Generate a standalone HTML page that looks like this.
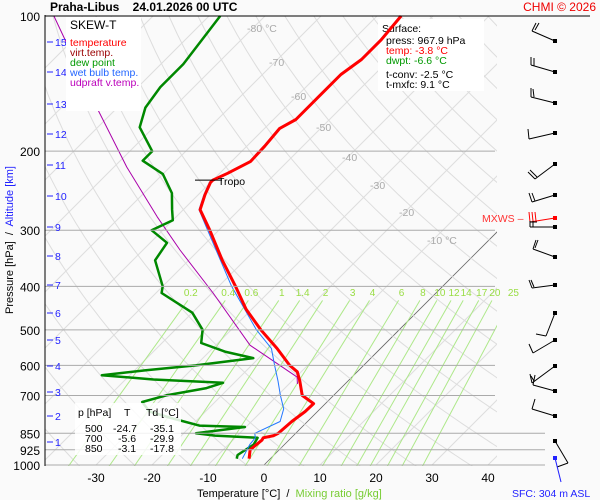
<!DOCTYPE html>
<html><head><meta charset="utf-8"><style>
body{margin:0;background:#fafafa;}
svg{display:block;font-family:"Liberation Sans",sans-serif;}
</style></head><body>
<svg id="c" width="600" height="500" viewBox="0 0 600 500">
<defs><clipPath id="plot"><rect x="45" y="15" width="452" height="451"/></clipPath></defs>
<rect width="600" height="500" fill="#fafafa"/>
<g id="grid" clip-path="url(#plot)"></g>
<g font-size="10.5">
<rect x="378" y="19" width="106" height="72" fill="#fff"/>
<text x="382" y="32" fill="#000">Surface:</text>
<text x="386" y="44" fill="#000">press: 967.9 hPa</text>
<text x="386" y="54" fill="#f00">temp: -3.8 °C</text>
<text x="386" y="64" fill="#090">dwpt: -6.6 °C</text>
<text x="386" y="78" fill="#000">t-conv: -2.5 °C</text>
<text x="386" y="88" fill="#000">t-mxfc: 9.1 °C</text>
</g>
<g id="series" clip-path="url(#plot)"></g>
<g id="axes"></g>
<text x="50" y="11" font-size="12" font-weight="bold">Praha-Libus&#160;&#160;&#160;&#160;24.01.2026 00 UTC</text>
<text x="596" y="11" font-size="12" fill="#e00" text-anchor="end">CHMI © 2026</text>
<g font-size="10.5">
<rect x="66" y="17" width="75" height="94" fill="#fff"/>
<text x="70" y="29" font-size="12" fill="#000">SKEW-T</text>
<text x="70" y="46" fill="#f00">temperature</text>
<text x="70" y="56" fill="#900">virt.temp.</text>
<text x="70" y="66" fill="#090">dew point</text>
<text x="70" y="76" fill="#26f">wet bulb temp.</text>
<text x="70" y="86" fill="#b0b">udpraft v.temp.</text>
</g>
<g font-size="10.5" fill="#000">
<rect x="75" y="403" width="106" height="52" fill="#fff" opacity="0.85"/>
<text x="78" y="416">p [hPa]</text><text x="124" y="416">T</text><text x="146" y="416">Td [°C]</text>
<text x="85" y="432">500</text><text x="113" y="432">-24.7</text><text x="150" y="432">-35.1</text>
<text x="85" y="442">700</text><text x="118" y="442">-5.6</text><text x="150" y="442">-29.9</text>
<text x="85" y="452">850</text><text x="118" y="452">-3.1</text><text x="150" y="452">-17.8</text>
</g>
<text x="197" y="497" font-size="11" fill="#000">Temperature [°C]&#160; /&#160; <tspan fill="#7c3">Mixing ratio [g/kg]</tspan></text>
<text transform="translate(13,240) rotate(-90)" font-size="11" text-anchor="middle" fill="#000">Pressure [hPa]&#160; /&#160; <tspan fill="#22f">Altitude [km]</tspan></text>
<g id="winds" stroke="#000" stroke-width="1" fill="none"></g>
<text x="482" y="222" font-size="10.5" fill="#f33">MXWS –</text>
<text x="512" y="497" font-size="10.5" fill="#22f">SFC: 304 m ASL</text>
</svg>
<script>
// data
const tempP = [968,925,880,870,860,850,800,760,730,700,650,620,600,550,500,450,400,350,300,270,250,235,232,224,211,195,178,170,150,135,125,113,100];
const tempT = [-3.8,-5.2,-4.8,-5.0,-3.5,-3.1,-2.8,-2.2,-2.1,-5.6,-8.6,-10.7,-13.2,-18.5,-24.7,-31,-37,-44,-51.6,-57,-58.8,-60,-60,-58.6,-56.6,-56.8,-57.3,-56,-56,-56,-55,-55,-55.7];
const dewP = [968,950,900,870,860,850,823,817,786,760,724,700,674,656,645,631,615,600,578,560,535,500,458,414,400,350,320,300,285,270,248,225,210,200,177,160,144,128,113,100];
const dewT = [-6,-6.5,-5.5,-6,-14,-17.8,-10.2,-18.6,-25,-30,-33,-29.9,-24,-22,-35,-45,-38,-30,-21,-27,-33,-35.1,-40,-49,-50,-56,-57,-62,-60,-62,-65,-70,-76,-76,-82.5,-85,-86,-86,-87,-88];
const wbP = [968,900,870,850,800,750,700,650,600,550,500,400,300,270,250,235,232,224,211,195,178,170,150,135,125,113,100];
const wbT = [-5,-6.2,-6.4,-7.3,-4.9,-6.5,-9.5,-12.5,-15.9,-19.5,-25.5,-37.7,-52,-57.2,-59,-60.2,-60.2,-58.8,-56.8,-57,-57.5,-56.2,-56.2,-56.2,-55.2,-55.2,-55.9];
const parcelP = [660,637,541,414,332,280,217,162,100];
const parcelT = [-8.5,-9.8,-23.9,-39.8,-53.4,-63.4,-77.7,-93,-117.7];
const pressureTicks = [100,200,300,400,500,600,700,850,925,1000];
const tempTicks = [-30,-20,-10,0,10,20,30,40];
const altKm = [1,2,3,4,5,6,7,8,9,10,11,12,13,14,15];
const altY = [442,416,392,366,340,313,285,256,227,196,165,134,104,72,42];
const mixRatios = [0.2,0.4,0.6,1,1.4,2,3,4,6,8,10,12,14,17,20,25];
const isoLabels = [-80,-70,-60,-50,-40,-30,-20,-10];

const NS = "http://www.w3.org/2000/svg";
function yP(p){return 465 - 449*Math.log10(1000/p);}
function xT(T,p){return 264 + 5.6*T + (465 - yP(p));}
function mk(tag, attrs, parent){const e=document.createElementNS(NS,tag);for(const k in attrs)e.setAttribute(k,attrs[k]);parent.appendChild(e);return e;}
const grid=document.getElementById('grid'), series=document.getElementById('series'), axes=document.getElementById('axes');

for(let T=-160;T<=50;T+=10){
  const l=mk('line',{x1:xT(T,1000),y1:yP(1000),x2:xT(T,100),y2:yP(100),stroke:T===0?'#666':'#ddd','stroke-width':T===0?0.8:1},grid);
  
  
}
for(let th=200;th<=480;th+=10){
  let pts=[];
  for(let p=1050;p>=100;p-=10){const T=th*Math.pow(p/1000,0.286)-273.15;pts.push(xT(T,p).toFixed(1)+','+yP(p).toFixed(1));}
  const l=mk('polyline',{points:pts.join(' '),fill:'none',stroke:'#ddd','stroke-width':1},grid);
  
  
}
function tdFromW(w,p){const e=w*p/(622+w);const a=Math.log(e/6.112);return 243.5*a/(17.67-a);}
mixRatios.forEach(w=>{
  const p2=430;
  const l=mk('line',{x1:xT(tdFromW(w,1050),1050),y1:yP(1050),x2:xT(tdFromW(w,p2),p2),y2:yP(p2),stroke:'#aee88a','stroke-width':1},grid);
  
  
  const t=mk('text',{x:xT(tdFromW(w,p2),p2)+3,y:yP(410)+5,'font-size':10,fill:'#9d4','text-anchor':'middle'},axes);
  t.textContent=w;
  
  
});
const isoY=[28,62,96,127,157,185,212,240];
isoLabels.forEach((T,i)=>{
  const y=isoY[i]; const p=1000/Math.pow(10,(465-y)/449);
  const t=mk('text',{x:xT(T,p)-6,y:y+4,'font-size':10.5,fill:'#aaa'},axes);
  t.textContent=T+((T===-80||T===-10)?' °C':'');
  
  
});
pressureTicks.forEach(p=>{
  const y=yP(p);
  const x2=p===100?590:(p>=850?545:495);
  const l=mk('line',{x1:45,y1:y,x2:x2,y2:y,stroke:p===100?'#000':'#aaa','stroke-width':1},axes);
  
  
  const t=mk('text',{x:40,y:y+5,'font-size':12,'text-anchor':'end',fill:'#000'},axes);
  t.textContent=p;
  
  
});
const ax=mk('line',{x1:45,y1:15,x2:45,y2:466,stroke:'#000'},axes);


tempTicks.forEach(T=>{
  const t=mk('text',{x:xT(T,1000),y:482,'font-size':12,'text-anchor':'middle',fill:'#000'},axes);
  t.textContent=T;
  
  
});
altKm.forEach((k,i)=>{
  const l=mk('line',{x1:47,y1:altY[i],x2:53,y2:altY[i],stroke:'#22f'},axes);
  
  
  const t=mk('text',{x:55,y:altY[i]+4,'font-size':10.5,fill:'#22f'},axes);
  t.textContent=k;
  
  
});
function line(P,T,color,w,name){
  const pts=P.map((p,i)=>xT(T[i],p).toFixed(1)+','+yP(p).toFixed(1)).join(' ');
  const l=mk('polyline',{points:pts,fill:'none',stroke:color,'stroke-width':w,'stroke-linejoin':'round'},series);
  
  
}
line(parcelP,parcelT,'#a0a',1,'updraft-line');
line(dewP,dewT,'#080',2.5,'dew-point-line');
line(wbP,wbT,'#27f',1,'wet-bulb-line');
line(tempP,tempT,'#f00',3,'temperature-line');
const ty=yP(232);
const tl=mk('line',{x1:195,y1:ty,x2:222,y2:ty,stroke:'#000'},axes);


const tt=mk('text',{x:218,y:ty+5,'font-size':10.5,fill:'#000'},axes);
tt.textContent='Tropo';


const winds=document.getElementById('winds');
const barbs=[
 [41,[[555,41,532,31],[532,31,536,23],[535,30,539,23]],'#000'],
 [72,[[555,72,531,65],[531,65,531,57],[534,66,534,58]],'#000'],
 [103,[[555,103,531,97],[531,97,531,88],[534,97,533,89]],'#000'],
 [133,[[555,133,529,139],[529,139,528,129]],'#000'],
 [164,[[555,164,535,179],[535,179,528,172],[537,177,530,170]],'#000'],
 [195,[[555,195,532,202],[532,202,529,193],[535,201,532,193]],'#000'],
 [218,[[555,218,530,222],[530,222,529,212],[533,221,532,212],[536,221,535,212]],'#f00'],
 [227,[[555,227,530,227],[530,227,530,221],[533,227,533,221],[530,222,537,222]],'#000'],
 [257,[[555,257,533,249],[533,249,536,240],[535,248,538,240]],'#000'],
 [285,[[555,285,532,288],[532,288,529,280],[534,287,531,280]],'#000'],
 [313,[[555,313,546,336],[546,336,536,334]],'#000'],
 [340,[[555,340,533,353],[533,353,529,344]],'#000'],
 [366,[[555,366,532,383],[532,383,530,374],[534,381,531,376]],'#000'],
 [391,[[555,391,533,385],[533,385,535,375]],'#000'],
 [416,[[555,416,532,409],[532,409,535,399]],'#000'],
 [441,[[555,441,568,463],[568,463,557,467]],'#000'],
 [458,[[555,458,561,482]],'#22f']
];
barbs.forEach(b=>{
  const g=mk('g',{stroke:b[2]},winds);
  
  
  b[1].forEach(s=>mk('line',{x1:s[0],y1:s[1],x2:s[2],y2:s[3]},g));
  mk('rect',{x:553,y:b[0]-2,width:4,height:4,fill:b[2],stroke:'none'},g);
});
</script>
</body></html>
